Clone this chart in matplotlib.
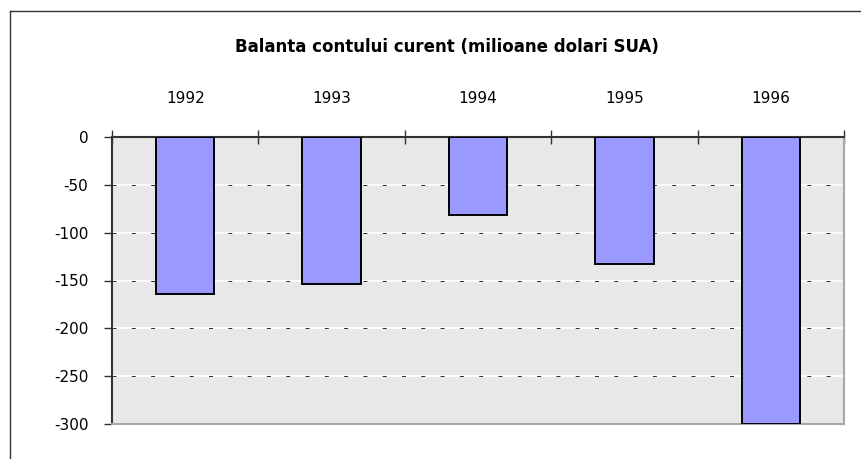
import matplotlib
matplotlib.use('Agg')
import matplotlib.pyplot as plt
from matplotlib.lines import Line2D
import numpy as np

# data
years = ['1992', '1993', '1994', '1995', '1996']
balance = [-164, -154, -82, -133, -300]
yticks = [0, -50, -100, -150, -200, -250, -300]
title = 'Balanta contului curent (milioane dolari SUA)'

W, H = 862, 459
fig = plt.figure(figsize=(W / 100, H / 100), dpi=100)
ax = fig.add_axes([112 / W, 1 - 424 / H, 732 / W, 287 / H])
ax.set_facecolor('#e8e8e8')

x = np.arange(len(years))
ax.bar(x, balance, width=0.40, color='#9999ff', edgecolor='black',
       linewidth=1.4, zorder=3)

ax.set_xlim(-0.5, len(years) - 0.5)
ax.set_ylim(-300, 0)

# gridlines: white line with short dark dashes
for t in yticks[1:-1]:
    ax.axhline(t, color='white', lw=1.2, zorder=1)
    ax.axhline(t, color='#333333', lw=0.72, dashes=(4, 15.3), zorder=1.5)

ax.set_yticks(yticks)
ax.set_yticklabels([str(v) for v in yticks], fontsize=11)
ax.tick_params(axis='y', direction='out', length=6, width=1, color='#333333', pad=11)

# categories on top, ticks at the boundaries
ax.xaxis.tick_top()
ax.set_xticks(np.arange(len(years) + 1) - 0.5)
ax.set_xticklabels([])
ax.set_xticks(x, minor=True)
ax.set_xticklabels(years, minor=True, fontsize=11)
ax.tick_params(axis='x', which='major', direction='inout', length=10, width=1, color='#333333')
ax.tick_params(axis='x', which='minor', length=0, pad=22)

for side in ['top', 'left']:
    ax.spines[side].set_color('#333333')
    ax.spines[side].set_linewidth(1.5)
for side in ['bottom', 'right']:
    ax.spines[side].set_color('#a8a8a8')
    ax.spines[side].set_linewidth(1.5)

fig.text(447 / W, 1 - 47 / H, title, ha='center', va='center',
         fontsize=12, fontweight='bold')

# outer chart border (left and top edges visible)
fig.add_artist(Line2D([10.5 / W, 10.5 / W], [0, 1 - 11 / H], transform=fig.transFigure,
                      color='#333333', lw=1))
fig.add_artist(Line2D([10.5 / W, 1], [1 - 11 / H, 1 - 11 / H], transform=fig.transFigure,
                      color='#333333', lw=1))

fig.savefig('out.png', dpi=100)
